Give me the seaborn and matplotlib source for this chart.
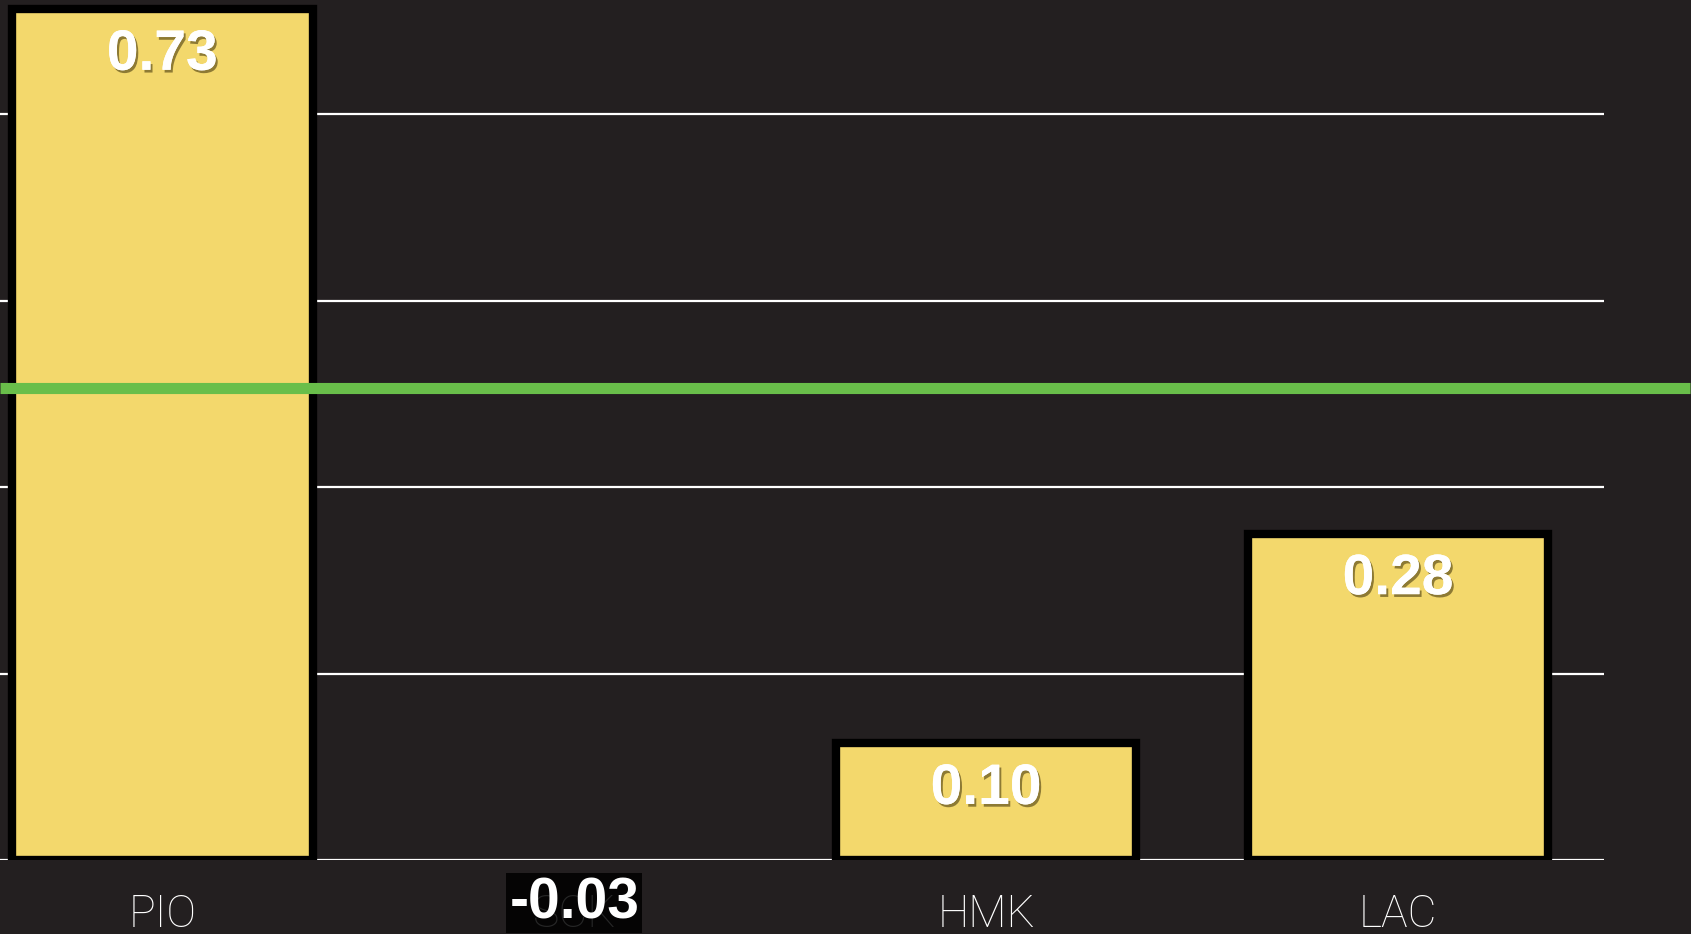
import numpy as np
import pandas as pd
import matplotlib
matplotlib.use("Agg")
import matplotlib.pyplot as plt
import matplotlib.patheffects as pe
import seaborn as sns

# data
teams = ["PIO", "SCK", "HMK", "LAC"]
scores = [0.73, -0.03, 0.10, 0.28]
grid_vals = [0, 0.16, 0.32, 0.48, 0.64]
target = 0.405

df = pd.DataFrame({"team": teams, "score": scores})

bg = "#231f20"
bar_col = "#f3d86c"

sns.set_style("dark")
fig = plt.figure(figsize=(16.91, 9.34), dpi=100, facecolor=bg)
ax = fig.add_axes([0, 74 / 934, 1604 / 1691, 860 / 934])
ax.set_facecolor(bg)

sns.barplot(data=df, x="team", y="score", color=bar_col, saturation=1,
            width=0.73, edgecolor="black", linewidth=6, ax=ax, zorder=2)
# negative bar is cut off at the baseline, so its frame would only leave a stray line
for p, v in zip(ax.patches, scores):
    if v < 0:
        p.set_edgecolor("none")

ax.set_xlim(-0.394, 3.5)
ax.set_ylim(0, 0.738)
ax.set_yticks(grid_vals)
ax.set_yticklabels([])
ax.yaxis.grid(True, color="white", linewidth=1.6, zorder=0)
ax.xaxis.grid(False)
ax.set_axisbelow(True)
for s in ax.spines.values():
    s.set_visible(False)
ax.set_xlabel("")
ax.set_ylabel("")
ax.tick_params(axis="both", length=0)
ax.tick_params(axis="x", pad=24, labelsize=32, labelcolor="white")
for lab in ax.get_xticklabels():
    lab.set_family(["Roboto", "DejaVu Sans"])
    lab.set_fontweight("light")

# green reference line, runs past the plot edge
ax.axhline(target, xmin=0, xmax=1690 / 1604, color="#69be4a", linewidth=8,
           solid_capstyle="butt", clip_on=False, zorder=3)

shadow = [pe.withSimplePatchShadow(offset=(1.5, -2), shadow_rgbFace="#4a3c10", alpha=0.6),
          pe.Normal()]
for i, v in enumerate(scores):
    if v > 0:
        ax.text(i, v - 0.039, f"{v:.2f}", ha="center", va="center", color="white",
                fontsize=41, fontweight="bold", family="Liberation Sans",
                path_effects=shadow, zorder=5)
    else:
        ax.text(i, v - 0.007, f"{v:.2f}", ha="center", va="center", color="white",
                fontsize=41, fontweight="bold", family="Liberation Sans",
                clip_on=False, zorder=5,
                bbox=dict(boxstyle="square,pad=0.05", facecolor="black",
                          edgecolor="none", alpha=0.85))

fig.savefig("out.png", dpi=100, facecolor=bg)
